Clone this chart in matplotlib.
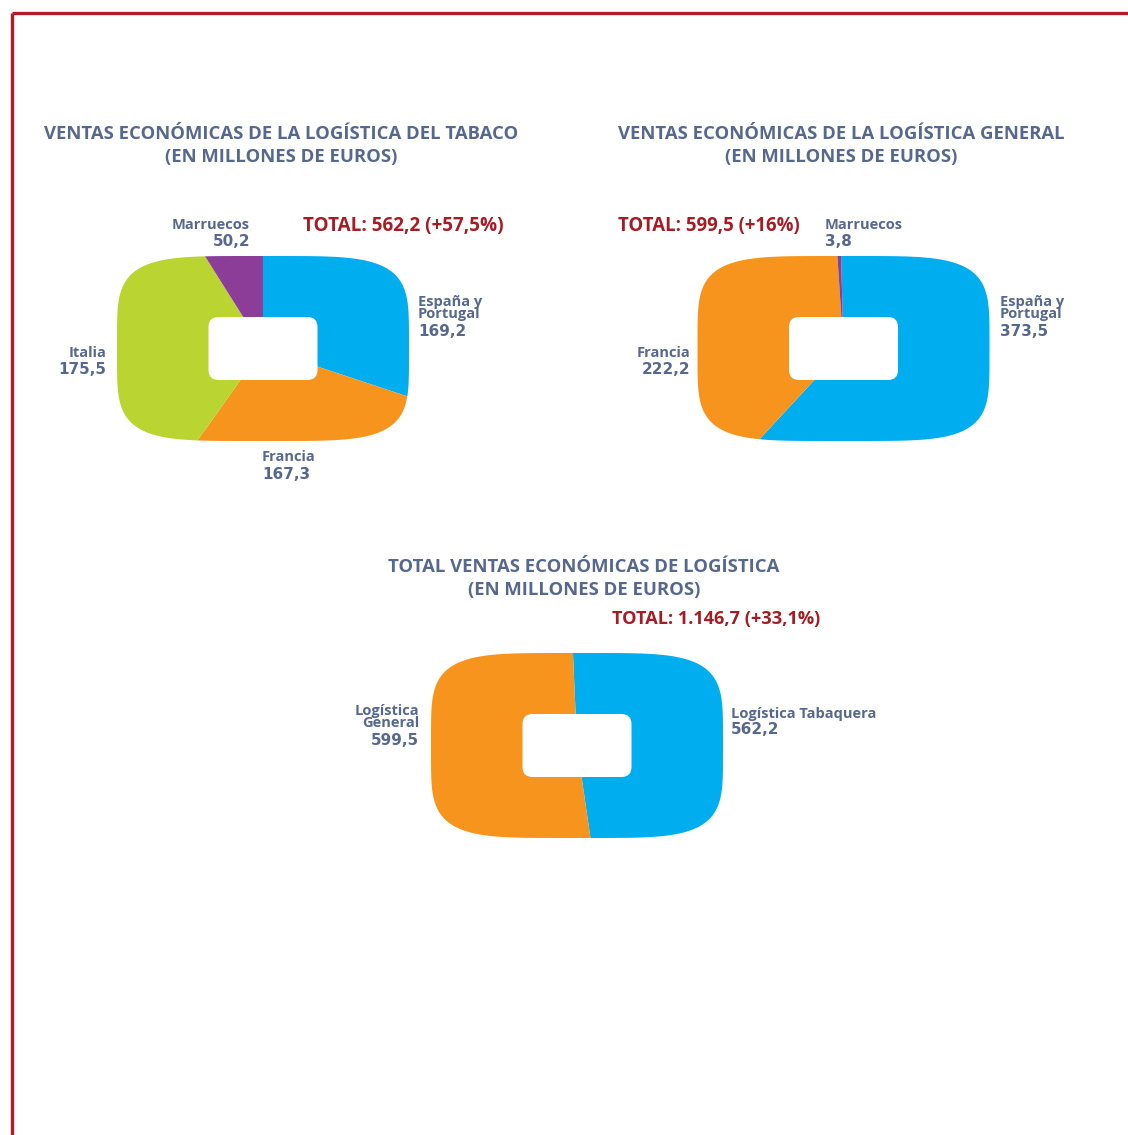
import numpy as np
import matplotlib
matplotlib.use("Agg")
import matplotlib.pyplot as plt
from matplotlib.path import Path
from matplotlib.patches import PathPatch, FancyBboxPatch

# ---- data -----------------------------------------------------------------
tabaco_labels = ["España y\nPortugal", "Francia", "Italia", "Marruecos"]
tabaco_values = [169.2, 167.3, 175.5, 50.2]
tabaco_total = "TOTAL: 562,2 (+57,5%)"

general_labels = ["España y\nPortugal", "Francia", "Marruecos"]
general_values = [373.5, 222.2, 3.8]
general_total = "TOTAL: 599,5 (+16%)"

total_labels = ["Logística Tabaquera", "Logística\nGeneral"]
total_values = [562.2, 599.5]
total_total = "TOTAL: 1.146,7 (+33,1%)"

titles = [
    "VENTAS ECONÓMICAS DE LA LOGÍSTICA DEL TABACO\n(EN MILLONES DE EUROS)",
    "VENTAS ECONÓMICAS DE LA LOGÍSTICA GENERAL\n(EN MILLONES DE EUROS)",
    "TOTAL VENTAS ECONÓMICAS DE LOGÍSTICA\n(EN MILLONES DE EUROS)",
]

# ---- style ----------------------------------------------------------------
BLUE = "#00AEEF"
ORANGE = "#F7941D"
GREEN = "#BAD532"
PURPLE = "#8B3D97"
SLATE = "#56688D"
RED = "#A51C24"
FONT = ["Open Sans", "DejaVu Sans"]
NUMFONT = ["DejaVu Sans"]

W, H = 1128, 1135
fig = plt.figure(figsize=(W / 100, H / 100), dpi=100)
ax = fig.add_axes([0, 0, 1, 1])


def Y(y):
    """Convert a top-down pixel row to the axes' bottom-up coordinate."""
    return H - y


def squircle(cx, cy, a, b, n=4.5, npts=400):
    t = np.linspace(0, 2 * np.pi, npts)
    c, s = np.cos(t), np.sin(t)
    x = cx + a * np.sign(c) * np.abs(c) ** (2 / n)
    y = cy + b * np.sign(s) * np.abs(s) ** (2 / n)
    verts = np.column_stack([x, y])
    codes = [Path.MOVETO] + [Path.LINETO] * (npts - 2) + [Path.CLOSEPOLY]
    return Path(verts, codes)


def rounded_pie(values, colors, cx, cy, startangle=90):
    """Pie wedges clipped to a rounded-rectangle outline with a white hole."""
    a, b = 146, 92.5
    outline = PathPatch(squircle(cx, Y(cy), a, b), transform=ax.transData,
                        facecolor="none", edgecolor="none")
    ax.add_patch(outline)
    wedges, _ = ax.pie(values, colors=colors, startangle=startangle,
                       counterclock=False, center=(cx, Y(cy)), radius=260,
                       wedgeprops=dict(linewidth=0), frame=True)
    for w in wedges:
        w.set_clip_on(True)
        w.set_clip_path(outline)
    hw, hh = 54.5, 31.5
    hole = FancyBboxPatch((cx - hw, Y(cy) - hh), 2 * hw, 2 * hh,
                          boxstyle="round,pad=0,rounding_size=10",
                          facecolor="white", edgecolor="none", zorder=5)
    ax.add_patch(hole)


def label(x, y, name, value, ha, num_dy=15.5):
    """Category name (first line centred at y) with its value underneath."""
    nlines = name.count("\n")
    step = 12
    ax.text(x, Y(y + nlines * step / 2), name, ha=ha, va="center",
            color=SLATE, fontsize=10.5, fontweight="bold", family=FONT,
            linespacing=0.8, zorder=6)
    ax.text(x, Y(y + nlines * step + num_dy + 1.5), value, ha=ha, va="center",
            color=SLATE, fontsize=11, fontweight="bold", family=NUMFONT,
            zorder=6)


def fmt(v):
    return f"{v:.1f}".replace(".", ",")


def title(x, y, text):
    ax.text(x, Y(y), text, ha="center", va="center", color=SLATE,
            fontsize=13.3, fontweight="bold", family=FONT, linespacing=1.38)


def total(x, y, text, size):
    ax.text(x, Y(y), text, ha="center", va="center", color=RED,
            fontsize=size, fontweight="bold", family=FONT)


# ---- chart 1: tabaco ------------------------------------------------------
title(281, 145.5, titles[0])
total(403, 226.5, tabaco_total, 13.6)
rounded_pie(tabaco_values, [BLUE, ORANGE, GREEN, PURPLE], 263, 348.5)
label(418, 302, tabaco_labels[0], fmt(tabaco_values[0]), "left", 16)
label(262, 457, tabaco_labels[1], fmt(tabaco_values[1]), "left", 16)
label(106, 353, tabaco_labels[2], fmt(tabaco_values[2]), "right", 15)
label(250, 225, tabaco_labels[3], fmt(tabaco_values[3]), "right", 15)

# ---- chart 2: general -----------------------------------------------------
title(841, 145.5, titles[1])
total(709, 226.5, general_total, 13.4)
rounded_pie(general_values, [BLUE, ORANGE, PURPLE], 843.5, 348.5,
            startangle=91.5)
label(1000, 302, general_labels[0], fmt(general_values[0]), "left", 16)
label(690, 353, general_labels[1], fmt(general_values[1]), "right", 15)
label(825, 225, general_labels[2], fmt(general_values[2]), "left", 15)

# ---- chart 3: total -------------------------------------------------------
title(584, 578.5, titles[2])
total(716, 619, total_total, 13.1)
rounded_pie(total_values, [BLUE, ORANGE], 577, 745.5, startangle=92.5)
label(731, 714, total_labels[0], fmt(total_values[0]), "left", 14)
label(419, 711, total_labels[1], fmt(total_values[1]), "right", 16)

# ---- frame lines ----------------------------------------------------------
ax.plot([12, W], [Y(13), Y(13)], color="#B01E2A", lw=2.4, solid_capstyle="butt")
ax.plot([12, 12], [Y(13), 0], color="#B01E2A", lw=2.4, solid_capstyle="butt")

ax.set_xlim(0, W)
ax.set_ylim(0, H)
ax.set_aspect("auto")
ax.axis("off")

fig.savefig("out.png", dpi=100, facecolor="white")
